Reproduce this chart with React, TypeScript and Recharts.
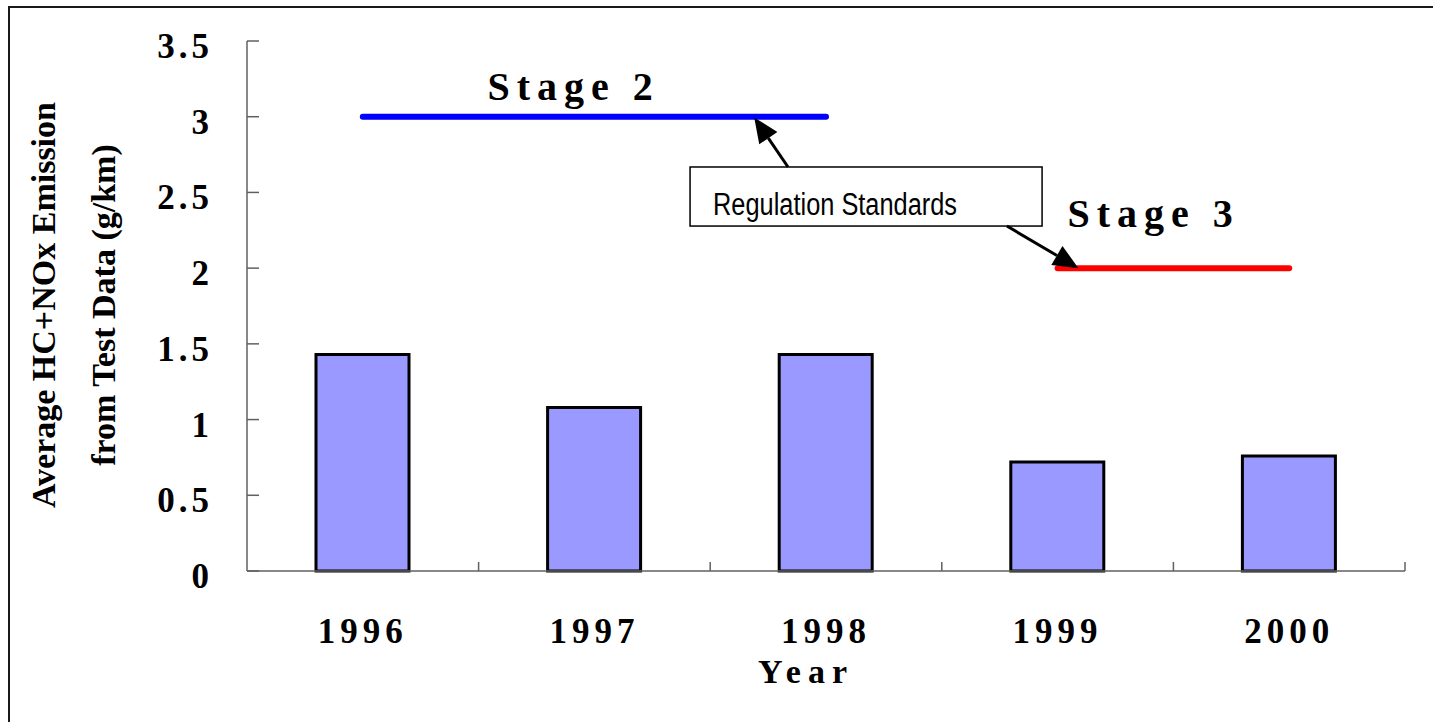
import React from 'react';
import {
  ComposedChart,
  Bar,
  Line,
  XAxis,
  YAxis,
  ReferenceArea,
  ReferenceDot,
  ReferenceLine,
} from 'recharts';

const years = ['1996', '1997', '1998', '1999', '2000'];
const emissions = [1.43, 1.08, 1.43, 0.72, 0.76];
const stage2Limit = [3, 3, 3, null, null];
const stage3Limit = [null, null, null, 2, 2];
const yTicks = [0, 0.5, 1, 1.5, 2, 2.5, 3, 3.5];

const data = years.map((year, i) => ({
  year,
  emission: emissions[i],
  stage2: stage2Limit[i],
  stage3: stage3Limit[i],
}));

const W = 1433;
const H = 722;
const margin = { top: 41, right: 28, bottom: 0, left: 0 };
const Y_AXIS_W = 247;
const X_AXIS_H = 151;
const band = (W - margin.right - margin.left - Y_AXIS_W) / years.length;

const serif = '"Liberation Serif", "Times New Roman", Times, serif';
const narrow = '"Liberation Sans Narrow", "Arial Narrow", "Liberation Sans", sans-serif';
const axisGrey = '#606060';

function XTick(props: any) {
  const { x, y, payload } = props;
  return (
    <g>
      <line x1={x + band / 2} x2={x + band / 2} y1={y - 9} y2={y} stroke={axisGrey} strokeWidth={1.5} />
      <text x={x} y={y + 72} textAnchor="middle" fontFamily={serif} fontWeight="bold"
        fontSize={35} letterSpacing={5} fill="#000">
        {payload.value}
      </text>
    </g>
  );
}

function YTick(props: any) {
  const { x, y, payload } = props;
  return (
    <g>
      <line x1={x} x2={x + 12} y1={y} y2={y} stroke={axisGrey} strokeWidth={1.5} />
      <text x={x - 34} y={y + 17} textAnchor="end" fontFamily={serif} fontWeight="bold"
        fontSize={35} letterSpacing={4} fill="#000">
        {payload.value}
      </text>
    </g>
  );
}

const renderYTitle = (props: any) => {
  const vb = props.viewBox;
  const cy = vb.y + vb.height / 2 - 1;
  return (
    <g fontFamily={serif} fontWeight="bold" fontSize={34} fill="#000">
      <text transform={`translate(${vb.x + 55},${cy}) rotate(-90)`} textAnchor="middle">
        Average HC+NOx Emission
      </text>
      <text transform={`translate(${vb.x + 115},${cy}) rotate(-90)`} textAnchor="middle">
        from Test Data (g/km)
      </text>
    </g>
  );
};

const renderXTitle = (props: any) => {
  const vb = props.viewBox;
  return (
    <text x={vb.x + vb.width / 2 - 20} y={vb.y + 112} textAnchor="middle" fontFamily={serif}
      fontWeight="bold" fontSize={34} letterSpacing={7} fill="#000">
      Year
    </text>
  );
};

const stageLabel = (text: string) => (props: any) => (
  <text x={props.cx} y={props.cy} textAnchor="middle" fontFamily={serif} fontWeight="bold"
    fontSize={40} letterSpacing={7} fill="#000">
    {text}
  </text>
);

const noteBox = (props: any) => {
  const { x, y, width, height } = props;
  return (
    <g>
      <rect x={x} y={y} width={width} height={height} fill="#fff" stroke="#000" strokeWidth={1.5} />
      <text x={x + 23} y={y + 48} fontFamily={narrow} fontSize={31} fill="#000"
        textLength={244} lengthAdjust="spacingAndGlyphs">
        Regulation Standards
      </text>
    </g>
  );
};

const arrow = (props: any) => {
  const { x1, y1, x2, y2 } = props;
  const dx = x2 - x1;
  const dy = y2 - y1;
  const len = Math.hypot(dx, dy) || 1;
  const ux = dx / len;
  const uy = dy / len;
  const hl = 25;
  const hw = 11;
  const bx = x2 - ux * hl;
  const by = y2 - uy * hl;
  return (
    <g>
      <line x1={x1} y1={y1} x2={bx} y2={by} stroke="#000" strokeWidth={3} />
      <polygon
        points={`${x2},${y2} ${bx - uy * hw},${by + ux * hw} ${bx + uy * hw},${by - ux * hw}`}
        fill="#000"
      />
    </g>
  );
};

export default function App() {
  return (
    <div style={{ position: 'relative', width: W, height: H, overflow: 'hidden', background: '#fff' }}>
      <style>{'body{margin:0;overflow:hidden}'}</style>
      <div
        style={{
          position: 'absolute',
          left: 8,
          top: 6,
          width: 1500,
          height: 800,
          borderTop: '2px solid #1a1a1a',
          borderLeft: '2px solid #1a1a1a',
        }}
      />
      <div style={{ position: 'absolute', left: 0, top: 0 }}>
        <ComposedChart width={W} height={H} data={data} margin={margin}>
          <XAxis
            dataKey="year"
            height={X_AXIS_H}
            interval={0}
            tickSize={0}
            tickMargin={0}
            tickLine={false}
            axisLine={{ stroke: axisGrey, strokeWidth: 1.5 }}
            tick={<XTick />}
            label={renderXTitle}
          />
          {/* helper axis: one unit per year slot, used only to place the annotations */}
          <XAxis xAxisId="grid" dataKey="slot" type="number" domain={[0, 5]} allowDataOverflow hide />
          <YAxis
            width={Y_AXIS_W}
            domain={[0, 3.5]}
            ticks={yTicks}
            interval={0}
            tickSize={0}
            tickMargin={0}
            tickLine={false}
            axisLine={{ stroke: axisGrey, strokeWidth: 1.5 }}
            tick={<YTick />}
            label={renderYTitle}
          />
          <Bar dataKey="emission" fill="#9999FF" stroke="#000" strokeWidth={3} barSize={93}
            isAnimationActive={false} />
          <Line dataKey="stage2" stroke="#0000FF" strokeWidth={6} strokeLinecap="round" dot={false}
            activeDot={false} isAnimationActive={false} />
          <Line dataKey="stage3" stroke="#FF0000" strokeWidth={6} strokeLinecap="round" dot={false}
            activeDot={false} isAnimationActive={false} />
          <ReferenceArea xAxisId="grid" x1={1.913} x2={3.433} y1={2.278} y2={2.668} shape={noteBox} />
          <ReferenceLine xAxisId="grid" segment={[{ x: 2.336, y: 2.668 }, { x: 2.19, y: 2.995 }]} shape={arrow} />
          <ReferenceLine xAxisId="grid" segment={[{ x: 3.281, y: 2.278 }, { x: 3.59, y: 2.0 }]} shape={arrow} />
          <ReferenceDot xAxisId="grid" x={1.41} y={3.11} shape={stageLabel('Stage 2')} />
          <ReferenceDot xAxisId="grid" x={3.915} y={2.272} shape={stageLabel('Stage 3')} />
        </ComposedChart>
      </div>
    </div>
  );
}
